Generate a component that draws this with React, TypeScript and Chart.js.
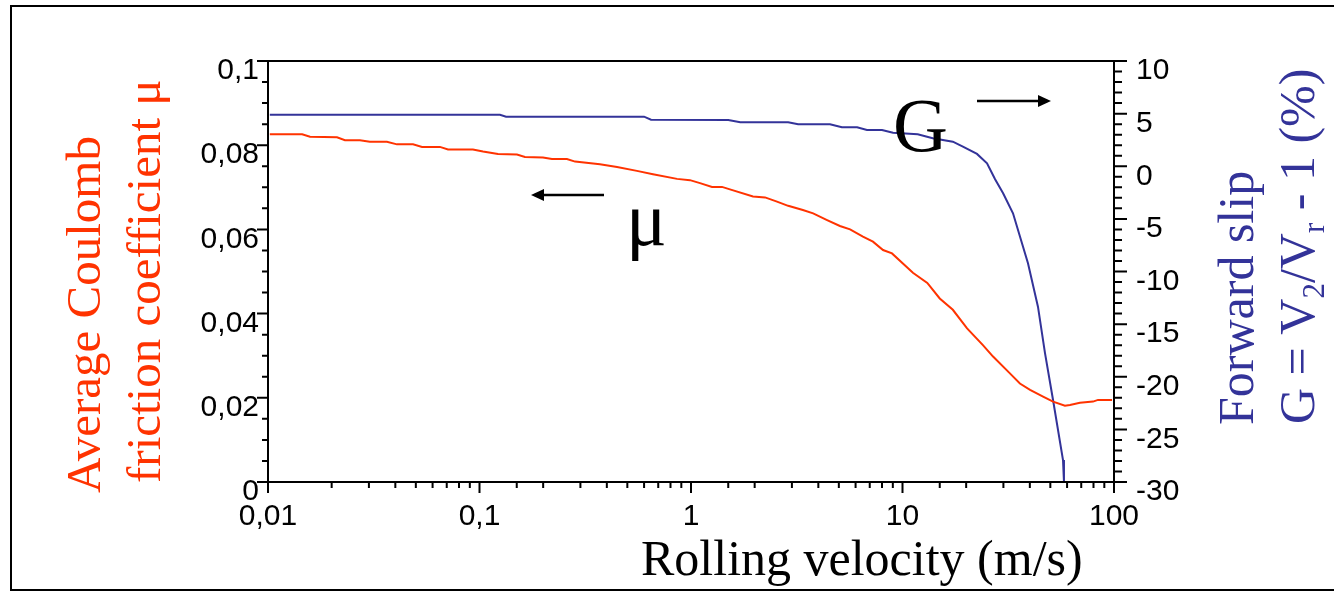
import React, { useEffect, useRef } from 'react';
import { Chart, registerables } from 'chart.js';

Chart.register(...registerables);

const RED = 'rgb(255, 51, 0)';
const BLUE = 'rgb(51, 51, 153)';
const SERIF = '"Liberation Serif", "Times New Roman", Times, serif';
const SANS = '"Liberation Sans", Arial, Helvetica, sans-serif';

// Average Coulomb friction coefficient μ versus rolling velocity (m/s)
const muVelocity = [
  0.0102, 0.0145, 0.0158, 0.0212, 0.0231, 0.0272, 0.0303, 0.0365, 0.0407, 0.0485,
  0.0535, 0.065, 0.071, 0.0931, 0.1039, 0.1223, 0.1504, 0.164, 0.1996, 0.22,
  0.259, 0.283, 0.371, 0.447, 0.555, 0.661, 0.859, 0.989, 1.103, 1.257,
  1.402, 1.528, 1.964, 2.24, 2.55, 2.88, 3.38, 3.78, 4.4, 5.06,
  5.65, 6.5, 7.25, 8.09, 8.92, 11.2, 13.1, 15.0, 17.3, 20.2,
  24.0, 26.8, 32.2, 35.9, 40.1, 46.2, 51.5, 58.6, 61.9, 69.0,
  79.6, 84.0, 97.9,
];
const muValues = [
  0.0826, 0.0826, 0.082, 0.0819, 0.0812, 0.0812, 0.0808, 0.0808, 0.0802, 0.0802,
  0.0796, 0.0796, 0.079, 0.079, 0.0785, 0.0779, 0.0778, 0.0772, 0.0771, 0.0767,
  0.0767, 0.0761, 0.0755, 0.0748, 0.0739, 0.0731, 0.072, 0.0717, 0.071, 0.0701,
  0.0701, 0.0695, 0.0678, 0.0676, 0.0666, 0.0656, 0.0646, 0.0638, 0.0622, 0.0608,
  0.06, 0.0583, 0.0571, 0.0551, 0.0543, 0.0497, 0.0473, 0.0436, 0.0409, 0.0365,
  0.0325, 0.0298, 0.0258, 0.0234, 0.0219, 0.0203, 0.0191, 0.0181, 0.0183, 0.0188,
  0.0191, 0.0195, 0.0195,
];

// Forward slip G = V2/Vr - 1 (%) versus rolling velocity (m/s)
const slipVelocity = [
  0.0102, 0.125, 0.1335, 0.6, 0.647, 1.5, 1.71, 2.88, 3.21, 4.54,
  5.17, 6.1, 6.79, 8.0, 9.02, 11.8, 13.9, 17.3, 19.3, 22.5,
  25.1, 27.4, 29.9, 33.3, 39.2, 43.7, 47.2, 51.5, 57.4, 58.0,
];
const slipValues = [
  4.9, 4.9, 4.71, 4.71, 4.42, 4.4, 4.18, 4.18, 3.99, 3.99,
  3.7, 3.7, 3.44, 3.44, 3.19, 3.04, 2.66, 2.33, 1.86, 1.17,
  0.28, -1.24, -2.57, -4.47, -9.22, -13.34, -17.77, -22.21, -27.91, -30,
];

// Axis ranges and tick spacing
const velocityRange = [0.01, 100];
const muRange = [0, 0.1];
const muMinorStep = 0.005;
const muLabelEvery = 4;
const slipRange = [-30, 10];
const slipMinorStep = 1;
const slipLabelEvery = 5;

const commaNumber = (v: number) => String(parseFloat(v.toPrecision(6))).replace('.', ',');
const isDecade = (v: number) => Math.abs(Math.log10(v) - Math.round(Math.log10(v))) < 1e-6;
const isEvery = (v: number, step: number, every: number) =>
  Math.round(Math.round(v / step)) % every === 0;

type Run = { text: string; sub?: boolean };

function drawRuns(ctx: CanvasRenderingContext2D, runs: Run[], x: number, y: number, size: number, color: string, vertical: boolean) {
  ctx.save();
  ctx.translate(x, y);
  if (vertical) ctx.rotate(-Math.PI / 2);
  ctx.fillStyle = color;
  ctx.textBaseline = 'alphabetic';
  ctx.textAlign = 'left';
  let cx = 0;
  for (const r of runs) {
    const s = r.sub ? Math.round(size * 0.62) : size;
    ctx.font = `${s}px ${SERIF}`;
    ctx.fillText(r.text, cx, r.sub ? size * 0.2 : 0);
    cx += ctx.measureText(r.text).width;
  }
  ctx.restore();
}

function arrow(ctx: CanvasRenderingContext2D, x0: number, x1: number, y: number) {
  const dir = Math.sign(x1 - x0);
  const head = 13;
  ctx.save();
  ctx.strokeStyle = '#000';
  ctx.fillStyle = '#000';
  ctx.lineWidth = 2.5;
  ctx.beginPath();
  ctx.moveTo(x0, y);
  ctx.lineTo(x1 - dir * head, y);
  ctx.stroke();
  ctx.beginPath();
  ctx.moveTo(x1, y);
  ctx.lineTo(x1 - dir * head, y - 6);
  ctx.lineTo(x1 - dir * head, y + 6);
  ctx.closePath();
  ctx.fill();
  ctx.restore();
}

const framePlugin = {
  id: 'frame',
  beforeDraw(chart: any) {
    const { ctx, width, height } = chart;
    ctx.save();
    ctx.fillStyle = '#fff';
    ctx.fillRect(0, 0, width, height);
    ctx.strokeStyle = '#000';
    ctx.lineWidth = 2;
    ctx.strokeRect(11, 6, width + 20, 584);
    ctx.restore();
  },
};

const axisTicksPlugin = {
  id: 'axisTicks',
  afterDraw(chart: any) {
    const { ctx, chartArea: a, scales } = chart;
    ctx.save();
    ctx.strokeStyle = '#000';
    ctx.lineWidth = 2;
    ctx.strokeRect(a.left, a.top, a.right - a.left, a.bottom - a.top);
    ctx.beginPath();
    for (const t of scales.x.ticks) {
      const px = scales.x.getPixelForValue(t.value);
      const len = isDecade(t.value) ? 11 : 6;
      ctx.moveTo(px, a.bottom);
      ctx.lineTo(px, a.bottom + len);
    }
    for (const t of scales.yMu.ticks) {
      const py = scales.yMu.getPixelForValue(t.value);
      const len = isEvery(t.value, muMinorStep, muLabelEvery) ? 11 : 6;
      ctx.moveTo(a.left, py);
      ctx.lineTo(a.left - len, py);
    }
    for (const t of scales.ySlip.ticks) {
      const py = scales.ySlip.getPixelForValue(t.value);
      const len = isEvery(t.value, slipMinorStep, slipLabelEvery) ? 13 : 8;
      ctx.moveTo(a.right, py);
      ctx.lineTo(a.right + len, py);
    }
    ctx.stroke();
    ctx.restore();
  },
};

const annotationPlugin = {
  id: 'annotations',
  afterDatasetsDraw(chart: any) {
    const { ctx } = chart;
    // curve labels with arrows pointing to their axes
    ctx.save();
    ctx.fillStyle = '#000';
    ctx.textBaseline = 'alphabetic';
    ctx.font = `76px ${SERIF}`;
    ctx.fillText('G', 893, 151);
    ctx.fillText('μ', 626, 245);
    ctx.restore();
    arrow(ctx, 977, 1051, 101);
    arrow(ctx, 604, 531, 195);
  },
  afterDraw(chart: any) {
    const { ctx } = chart;
    // axis titles
    drawRuns(ctx, [{ text: 'Average Coulomb' }], 100, 493, 49, RED, true);
    drawRuns(ctx, [{ text: 'friction coefficient μ' }], 160, 483, 49, RED, true);
    drawRuns(ctx, [{ text: 'Forward slip' }], 1253, 425, 50, BLUE, true);
    drawRuns(
      ctx,
      [
        { text: 'G = V' },
        { text: '2', sub: true },
        { text: '/V' },
        { text: 'r', sub: true },
        { text: ' - 1 (%)' },
      ],
      1314,
      424,
      50,
      BLUE,
      true,
    );
    drawRuns(ctx, [{ text: 'Rolling velocity (m/s)' }], 641, 575, 50, '#000', false);
  },
};

export default function App() {
  const canvasRef = useRef<HTMLCanvasElement | null>(null);

  useEffect(() => {
    if (!canvasRef.current) return;
    const muData = muVelocity.map((v, i) => ({ x: v, y: muValues[i] }));
    const slipData = slipVelocity.map((v, i) => ({ x: v, y: slipValues[i] }));
    const tickFont = { family: SANS, size: 30 };

    const chart = new Chart(canvasRef.current, {
      type: 'line',
      data: {
        datasets: [
          {
            label: 'μ',
            data: muData,
            yAxisID: 'yMu',
            borderColor: RED,
            borderWidth: 2,
            pointRadius: 0,
            tension: 0,
            fill: false,
          },
          {
            label: 'G',
            data: slipData,
            yAxisID: 'ySlip',
            borderColor: BLUE,
            borderWidth: 2,
            pointRadius: 0,
            tension: 0,
            fill: false,
          },
        ],
      },
      options: {
        responsive: false,
        animation: false,
        devicePixelRatio: 1,
        layout: { padding: { top: 61, left: 0, right: 0, bottom: 0 } },
        plugins: {
          legend: { display: false },
          title: { display: false },
          tooltip: { enabled: false },
        },
        scales: {
          x: {
            type: 'logarithmic',
            position: 'bottom',
            min: velocityRange[0],
            max: velocityRange[1],
            grid: { display: false, drawTicks: false },
            border: { display: false },
            ticks: {
              autoSkip: false,
              maxRotation: 0,
              minRotation: 0,
              color: '#000',
              font: tickFont,
              padding: 17,
              callback: (v: any) => (isDecade(Number(v)) ? commaNumber(Number(v)) : ''),
            },
            afterFit: (s: any) => {
              s.height = 110;
            },
          },
          yMu: {
            type: 'linear',
            position: 'left',
            min: muRange[0],
            max: muRange[1],
            grid: { display: false, drawTicks: false },
            border: { display: false },
            ticks: {
              stepSize: muMinorStep,
              autoSkip: false,
              color: '#000',
              font: tickFont,
              padding: 9,
              labelOffset: 10,
              callback: (v: any) =>
                isEvery(Number(v), muMinorStep, muLabelEvery) ? commaNumber(Number(v)) : '',
            },
            afterFit: (s: any) => {
              s.width = 268;
            },
          },
          ySlip: {
            type: 'linear',
            position: 'right',
            min: slipRange[0],
            max: slipRange[1],
            grid: { display: false, drawTicks: false },
            border: { display: false },
            ticks: {
              stepSize: slipMinorStep,
              autoSkip: false,
              color: '#000',
              font: tickFont,
              padding: 22,
              labelOffset: 10,
              callback: (v: any) =>
                isEvery(Number(v), slipMinorStep, slipLabelEvery) ? String(Math.round(Number(v))) : '',
            },
            afterFit: (s: any) => {
              s.width = 220;
            },
          },
        },
      } as any,
      plugins: [framePlugin, axisTicksPlugin, annotationPlugin],
    });

    return () => chart.destroy();
  }, []);

  return (
    <div style={{ position: 'absolute', left: 0, top: 0, width: 1334, height: 592 }}>
      <canvas ref={canvasRef} width={1334} height={592} style={{ display: 'block' }} />
    </div>
  );
}
